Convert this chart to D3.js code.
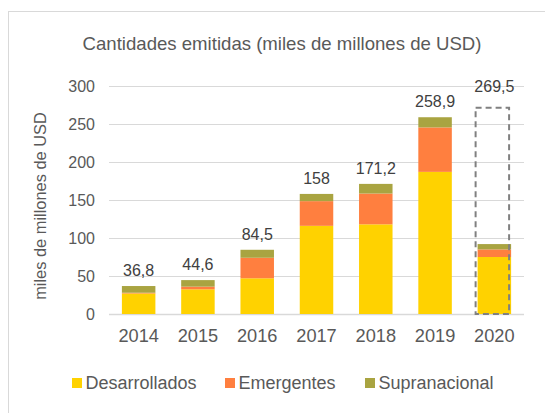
<!DOCTYPE html>
<html><head><meta charset="utf-8">
<script src="https://cdn.jsdelivr.net/npm/d3@7"></script>
<style>body{margin:0;background:#fff}svg{display:block;font-family:"Liberation Sans",Arial,sans-serif}</style>
</head><body>
<script>
const years = ["2014","2015","2016","2017","2018","2019","2020"];
const desarrollados = [27, 32.5, 47, 116, 118, 187, 75];
const emergentes = [1, 3.5, 27, 32.5, 40.5, 58.5, 10];
const supranacional = [8.8, 8.6, 10.5, 9.5, 12.7, 13.4, 7];
const totalLabels = ["36,8","44,6","84,5","158","171,2","258,9","269,5"];
const projected2020 = 269.5;
const yTicks = [0,50,100,150,200,250,300];
const seriesNames = ["Desarrollados","Emergentes","Supranacional"];
const colors = ["#FFD200","#FF7F3F","#A9A441"];

const W=545,H=413;
const svg=d3.select("body").append("svg").attr("width",W).attr("height",H);
svg.append("rect").attr("x",8.5).attr("y",11.5).attr("width",560).attr("height",430).attr("fill","#fff").attr("stroke","#D9D9D9");

const x=d3.scaleBand().domain(years).range([109,524]).paddingInner(0.435).paddingOuter(0.2175);
const y=d3.scaleLinear().domain([0,300]).range([314,86]);

svg.append("text").attr("x",282).attr("y",49.5).attr("text-anchor","middle").attr("font-size",18.6).attr("fill","#595959").text("Cantidades emitidas (miles de millones de USD)");

const grid=svg.append("g");
grid.selectAll("line").data(yTicks).join("line").attr("x1",109).attr("x2",524).attr("y1",d=>Math.round(y(d))+0.5).attr("y2",d=>Math.round(y(d))+0.5).attr("stroke","#D9D9D9").attr("stroke-width",d=>d===0?1.5:1);

const yAxis=svg.append("g").attr("transform","translate(95,0)").call(d3.axisLeft(y).tickValues(yTicks).tickSize(0).tickPadding(0));
yAxis.select(".domain").remove();
yAxis.selectAll("text").attr("font-size",16).attr("fill","#595959").attr("font-family","Liberation Sans, Arial, sans-serif");

const xAxis=svg.append("g").attr("transform","translate(0,342)").call(d3.axisBottom(x).tickSize(0).tickPadding(0));
xAxis.select(".domain").remove();
xAxis.selectAll("text").attr("font-size",18.2).attr("fill","#595959").attr("dy","0").attr("font-family","Liberation Sans, Arial, sans-serif");

svg.append("text").attr("transform","translate(46,206) rotate(-90)").attr("text-anchor","middle").attr("font-size",16.4).attr("fill","#595959").text("miles de millones de USD");

const data=years.map((yr,i)=>({year:yr,Desarrollados:desarrollados[i],Emergentes:emergentes[i],Supranacional:supranacional[i]}));
const stack=d3.stack().keys(seriesNames)(data);
svg.append("g").selectAll("g").data(stack).join("g").attr("fill",(d,i)=>colors[i])
 .selectAll("rect").data(d=>d).join("rect")
 .attr("x",d=>x(d.data.year)).attr("width",x.bandwidth())
 .attr("y",d=>y(d[1])).attr("height",d=>y(d[0])-y(d[1]));

// dashed projection box 2020
svg.append("rect").attr("x",x("2020")-2).attr("y",y(projected2020)-1.5).attr("width",x.bandwidth()).attr("height",y(0)-y(projected2020)+1.5)
 .attr("fill","none").attr("stroke","#808080").attr("stroke-width",2).attr("stroke-dasharray","6,4");

const tops=years.map((yr,i)=>yr==="2020"?projected2020:desarrollados[i]+emergentes[i]+supranacional[i]);
svg.append("g").selectAll("text").data(years).join("text")
 .attr("x",d=>x(d)+x.bandwidth()/2).attr("y",(d,i)=>y(tops[i])-(d==="2020"?17:10))
 .attr("text-anchor","middle").attr("font-size",16).attr("fill","#404040").text((d,i)=>totalLabels[i]);

const legX=[72,225,365];
const leg=svg.append("g");
seriesNames.forEach((n,i)=>{
 leg.append("rect").attr("x",legX[i]).attr("y",378).attr("width",10).attr("height",10).attr("fill",colors[i]);
 leg.append("text").attr("x",legX[i]+13.5).attr("y",389).attr("font-size",18).attr("fill","#595959").text(n);
});
</script>
</body></html>
